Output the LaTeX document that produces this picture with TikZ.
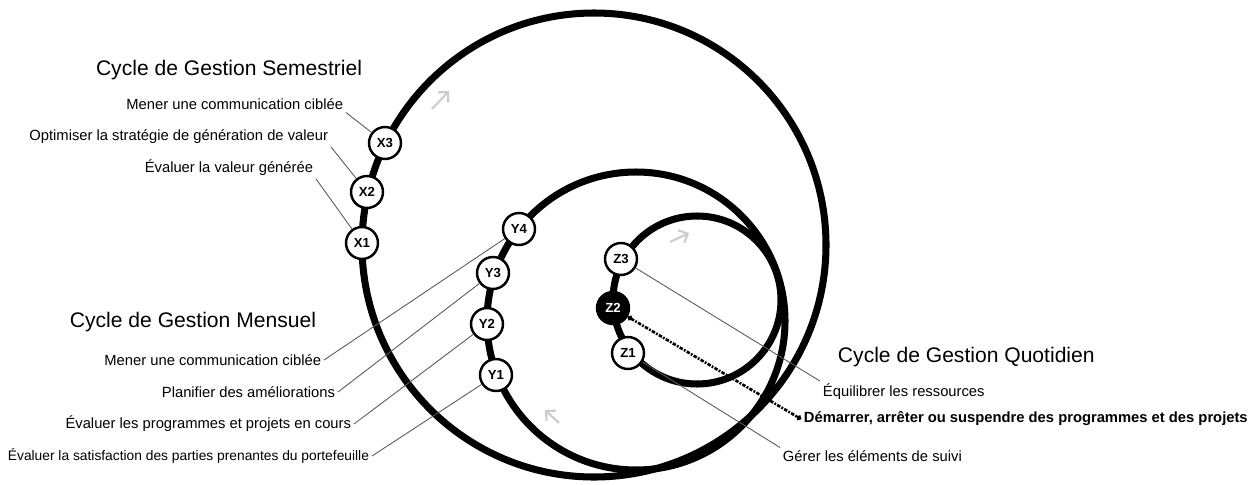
\documentclass[tikz,border=0pt]{standalone}
\usepackage{fontspec}
\setmainfont{Liberation Sans}
\usetikzlibrary{arrows.meta}

\tikzset{
  boucle/.style={line width=4pt},
  etape/.style={circle, draw, line width=1.4pt, fill=white, minimum size=0.64cm,
    inner sep=0pt, font=\bfseries\fontsize{7.5}{8}\selectfont},
  etapenoire/.style={etape, fill=black, text=white},
  libelle/.style={font=\fontsize{8.4}{10}\selectfont, inner sep=1.5pt},
  titre/.style={font=\fontsize{12}{14}\selectfont, inner sep=1.5pt},
  leader/.style={black!65, line width=0.5pt},
  pointille/.style={line width=1.5pt, dash pattern=on 2pt off 0.8pt on 1pt off 0.8pt,
    {Circle[length=2.8pt]}-{Circle[length=2.8pt]}},
  sens/.style={black!20, line width=1.2pt, -{Straight Barb[length=4pt,width=8pt]}}
}

\begin{document}
\begin{tikzpicture}[x=0.02cm, y=-0.02cm]
  \useasboundingbox (0,0) rectangle (1251,484);

  % Les trois cycles
  \draw[boucle] (594,245) circle (232);   % semestriel
  \draw[boucle] (636,321) circle (149);   % mensuel
  \draw[boucle] (697,300) circle (84);    % quotidien

  % Sens de parcours
  \draw[sens] (432,109) -- (449,91);
  \draw[sens] (559,423) -- (545,410);
  \draw[sens] (670,242) -- (689,233);

  % Etapes sur les cycles
  \node[etape] (X1) at (362,243) {X1};
  \node[etape] (X2) at (367,192) {X2};
  \node[etape] (X3) at (385,143) {X3};

  \node[etape] (Y1) at (496,375) {Y1};
  \node[etape] (Y2) at (487,324) {Y2};
  \node[etape] (Y3) at (493,273) {Y3};
  \node[etape] (Y4) at (519,229) {Y4};

  \node[etape] (Z1) at (628,353) {Z1};
  \node[etapenoire] (Z2) at (613,308) {Z2};
  \node[etape] (Z3) at (621,259) {Z3};

  % Titres
  \node[titre, anchor=east] (tS) at (365,70) {Cycle de Gestion Semestriel};
  \node[titre, anchor=east] (tM) at (319,322) {Cycle de Gestion Mensuel};
  \node[titre, anchor=west] (tQ) at (835,357) {Cycle de Gestion Quotidien};

  % Libelles semestriels
  \node[libelle, anchor=east] (lX3) at (346,104) {Mener une communication ciblée};
  \node[libelle, anchor=east] (lX2) at (331,137) {Optimiser la stratégie de génération de valeur};
  \node[libelle, anchor=east] (lX1) at (316,168) {Évaluer la valeur générée};

  % Libelles mensuels
  \node[libelle, anchor=east] (lY4) at (324,360) {Mener une communication ciblée};
  \node[libelle, anchor=east] (lY3) at (338,392) {Planifier des améliorations};
  \node[libelle, anchor=east] (lY2) at (354,424) {Évaluer les programmes et projets en cours};
  \node[libelle, anchor=east, font=\fontsize{7.85}{10}\selectfont] (lY1) at (372,456)
    {Évaluer la satisfaction des parties prenantes du portefeuille};

  % Libelles quotidiens
  \node[libelle, anchor=west] (lZ3) at (820,392) {Équilibrer les ressources};
  \node[libelle, anchor=west, font=\bfseries\fontsize{8.4}{10}\selectfont] (lZ2) at (801,419)
    {Démarrer, arrêter ou suspendre des programmes et des projets};
  \node[libelle, anchor=west] (lZ1) at (780,456) {Gérer les éléments de suivi};

  % Traits de rappel
  \draw[leader] (X3) -- (lX3.south east);
  \draw[leader] (X2) -- (lX2.south east);
  \draw[leader] (X1) -- (lX1.south east);

  \draw[leader] (Y4) -- (lY4.east);
  \draw[leader] (Y3) -- (lY3.east);
  \draw[leader] (Y2) -- (lY2.east);
  \draw[leader] (Y1) -- (lY1.east);

  \draw[leader] (Z3) -- (lZ3.north west);
  \draw[pointille] (Z2) -- (lZ2.west);
  \draw[leader] (Z1) -- (lZ1.north west);

\end{tikzpicture}
\end{document}
